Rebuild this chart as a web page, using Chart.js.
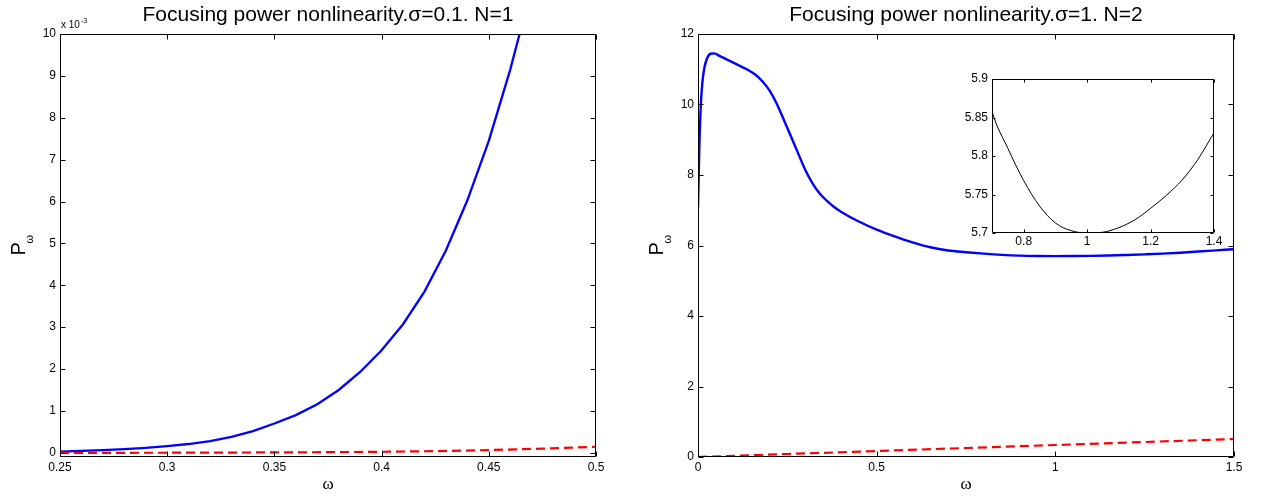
<!DOCTYPE html>
<html>
<head>
<meta charset="utf-8">
<title>Focusing power nonlinearity</title>
<script src="https://cdn.jsdelivr.net/npm/chart.js@4.4.1/dist/chart.umd.min.js"></script>
<style>
    html, body { margin: 0; padding: 0; background: #fff; }
    #wrap { position: relative; width: 1267px; height: 500px; overflow: hidden; }
    canvas { position: absolute; }
    #leftChart { left: 0; top: 0; width: 640px; height: 500px; }
    #rightChart { left: 640px; top: 0; width: 627px; height: 500px; }
    #insetChart { left: 940px; top: 60px; width: 300px; height: 200px; }
</style>
</head>
<body>
<div id="wrap">
    <canvas id="leftChart" width="640" height="500"></canvas>
    <canvas id="rightChart" width="627" height="500"></canvas>
    <canvas id="insetChart" width="300" height="200"></canvas>
</div>
<script>
// ---- data ----
// left panel, sigma = 0.1, N = 1 (P values in units of 1e-3)
const leftOmega = [0.25, 0.26, 0.27, 0.28, 0.29, 0.30, 0.31, 0.32, 0.33, 0.34, 0.35, 0.36,
    0.37, 0.38, 0.39, 0.40, 0.41, 0.42, 0.43, 0.44, 0.45, 0.46, 0.47];
const leftPower = [0.03, 0.045, 0.065, 0.09, 0.12, 0.16, 0.21, 0.28, 0.38, 0.52, 0.70, 0.90,
    1.16, 1.50, 1.93, 2.45, 3.07, 3.85, 4.83, 6.03, 7.45, 9.15, 11.1];
const leftOmegaRed = [0.25, 0.275, 0.3, 0.325, 0.35, 0.375, 0.4, 0.425, 0.45, 0.475, 0.5];
const leftPowerRed = [0.0, 0.0, 0.002, 0.005, 0.01, 0.015, 0.025, 0.04, 0.065, 0.1, 0.145];

// right panel, sigma = 1, N = 2
const rightOmega = [0, 0.004, 0.008, 0.012, 0.018, 0.025, 0.035, 0.045, 0.06, 0.08, 0.10, 0.12,
    0.14, 0.16, 0.18, 0.20, 0.22, 0.24, 0.26, 0.28, 0.30, 0.32, 0.34, 0.36, 0.38, 0.40, 0.45,
    0.50, 0.55, 0.60, 0.65, 0.70, 0.75, 0.80, 0.85, 0.90, 0.95, 1.00, 1.05, 1.10, 1.15, 1.20,
    1.25, 1.30, 1.35, 1.40, 1.45, 1.50];
const rightPower = [7.05, 8.9, 10.0, 10.6, 11.05, 11.3, 11.44, 11.45, 11.38, 11.28, 11.18, 11.08,
    10.98, 10.85, 10.66, 10.4, 10.03, 9.57, 9.1, 8.62, 8.15, 7.77, 7.48, 7.27, 7.1, 6.96, 6.68,
    6.45, 6.26, 6.09, 5.95, 5.858, 5.81, 5.768, 5.735, 5.713, 5.703, 5.700, 5.701, 5.707, 5.717, 5.732,
    5.749, 5.769, 5.796, 5.83, 5.862, 5.895];
const rightOmegaRed = [0, 0.25, 0.5, 0.75, 1.0, 1.25, 1.5];
const rightPowerRed = [0, 0.085, 0.17, 0.255, 0.34, 0.425, 0.51];

// tick labels
const leftXTicks = [0.25, 0.3, 0.35, 0.4, 0.45, 0.5];
const leftYTicks = [0, 1, 2, 3, 4, 5, 6, 7, 8, 9, 10];
const rightXTicks = [0, 0.5, 1, 1.5];
const rightYTicks = [0, 2, 4, 6, 8, 10, 12];
const insetXTicks = [0.8, 1, 1.2, 1.4];
const insetYTicks = [5.7, 5.75, 5.8, 5.85, 5.9];

const SANS = "'Liberation Sans', Arial, sans-serif";
const SERIF = "'Liberation Serif', 'Times New Roman', serif";

function toPoints(xs, ys) {
    return xs.map((x, i) => ({ x: x, y: ys[i] }));
}

function fmt(v) {
    return String(Math.round(v * 10000) / 10000);
}

// matlab-like box: frame, inward ticks on all four sides, title and axis labels
const matlabFrame = {
    id: 'matlabFrame',
    beforeDatasetsDraw(chart, args, opts) {
        if (!opts.fill) return;
        const a = chart.chartArea;
        chart.ctx.save();
        chart.ctx.fillStyle = '#fff';
        chart.ctx.fillRect(a.left, a.top, a.width, a.height);
        chart.ctx.restore();
    },
    afterDraw(chart, args, opts) {
        const ctx = chart.ctx;
        const a = chart.chartArea;
        const xs = chart.scales.x;
        const ys = chart.scales.y;
        const len = opts.tickLen || 5;
        const L = Math.round(a.left) + 0.5, R = Math.round(a.right) - 0.5;
        const T = Math.round(a.top) + 0.5, B = Math.round(a.bottom) - 0.5;

        ctx.save();
        ctx.strokeStyle = '#000';
        ctx.lineWidth = 1;
        ctx.beginPath();
        ctx.rect(L, T, R - L, B - T);
        xs.ticks.forEach(t => {
            const px = Math.round(xs.getPixelForValue(t.value)) + 0.5;
            ctx.moveTo(px, B); ctx.lineTo(px, B - len);
            ctx.moveTo(px, T); ctx.lineTo(px, T + len);
        });
        ys.ticks.forEach(t => {
            const py = Math.round(ys.getPixelForValue(t.value)) + 0.5;
            ctx.moveTo(L, py); ctx.lineTo(L + len, py);
            ctx.moveTo(R, py); ctx.lineTo(R - len, py);
        });
        ctx.stroke();

        ctx.fillStyle = '#000';
        const cx = (a.left + a.right) / 2;
        const cy = (a.top + a.bottom) / 2;

        if (opts.title) {
            ctx.font = '21px ' + SANS;
            ctx.textAlign = 'center';
            ctx.textBaseline = 'alphabetic';
            ctx.fillText(opts.title, cx, a.top - 13);
        }

        if (opts.xLabel) {
            ctx.font = '17px ' + SERIF;
            ctx.textAlign = 'center';
            ctx.fillText(opts.xLabel, cx, a.bottom + 32);
        }

        if (opts.yLabel) {
            // P with a subscript omega, rotated
            ctx.save();
            ctx.translate(a.left, cy);
            ctx.rotate(-Math.PI / 2);
            ctx.textAlign = 'left';
            ctx.font = '20px ' + SANS;
            ctx.fillText(opts.yLabel, -10, -35);
            ctx.font = '11px ' + SANS;
            ctx.fillText(opts.yLabelSub, 2, -27);
            ctx.restore();
        }

        if (opts.exponent) {
            ctx.textAlign = 'left';
            ctx.font = '10px ' + SANS;
            ctx.fillText('x 10', a.left + 1, a.top - 6);
            const w = ctx.measureText('x 10').width;
            ctx.font = '7px ' + SANS;
            ctx.fillText(opts.exponent, a.left + 1 + w + 1, a.top - 11);
        }
        ctx.restore();
    }
};

function makeScale(min, max, tickValues, size, pad, isX) {
    return {
        type: 'linear',
        min: min,
        max: max,
        afterBuildTicks: s => { s.ticks = tickValues.map(v => ({ value: v })); },
        afterFit: s => { if (isX) s.height = size; else s.width = size; },
        grid: { display: false, drawTicks: false },
        border: { display: false },
        ticks: {
            color: '#000',
            font: { family: SANS, size: 12 },
            padding: pad,
            maxRotation: 0,
            autoSkip: false,
            callback: v => fmt(v)
        }
    };
}

function baseOptions(padding, scales, frame) {
    return {
        responsive: false,
        animation: false,
        events: [],
        layout: { padding: padding },
        plugins: {
            legend: { display: false },
            tooltip: { enabled: false },
            title: { display: false },
            matlabFrame: frame
        },
        elements: { point: { radius: 0 } },
        scales: scales
    };
}

document.addEventListener('DOMContentLoaded', function() {
    // Left panel
    new Chart(document.getElementById('leftChart'), {
        type: 'scatter',
        data: {
            datasets: [{
                data: toPoints(leftOmegaRed, leftPowerRed),
                showLine: true,
                borderColor: '#ff0000',
                borderWidth: 2.2,
                borderDash: [9, 5],
                tension: 0
            }, {
                data: toPoints(leftOmega, leftPower),
                showLine: true,
                borderColor: '#0000ff',
                borderWidth: 2.3,
                tension: 0
            }]
        },
        options: baseOptions({ left: 0, top: 34, right: 44, bottom: 0 }, {
            x: makeScale(0.25, 0.5, leftXTicks, 43, 3, true),
            y: makeScale(-0.1, 10, leftYTicks, 60, 4, false)
        }, {
            title: 'Focusing power nonlinearity.\u03c3=0.1. N=1',
            xLabel: '\u03c9',
            yLabel: 'P',
            yLabelSub: '\u03c9',
            exponent: '-3'
        }),
        plugins: [matlabFrame]
    });

    // Right panel
    new Chart(document.getElementById('rightChart'), {
        type: 'scatter',
        data: {
            datasets: [{
                data: toPoints(rightOmegaRed, rightPowerRed),
                showLine: true,
                borderColor: '#ff0000',
                borderWidth: 2.2,
                borderDash: [9, 5],
                tension: 0
            }, {
                data: toPoints(rightOmega, rightPower),
                showLine: true,
                borderColor: '#0000ff',
                borderWidth: 2.4,
                cubicInterpolationMode: 'monotone'
            }]
        },
        options: baseOptions({ left: 0, top: 34, right: 33, bottom: 0 }, {
            x: makeScale(0, 1.5, rightXTicks, 43, 3, true),
            y: makeScale(0, 12, rightYTicks, 58, 4, false)
        }, {
            title: 'Focusing power nonlinearity.\u03c3=1. N=2',
            xLabel: '\u03c9',
            yLabel: 'P',
            yLabelSub: '\u03c9'
        }),
        plugins: [matlabFrame]
    });

    // Inset: zoom on the minimum of the right panel curve
    new Chart(document.getElementById('insetChart'), {
        type: 'scatter',
        data: {
            datasets: [{
                data: toPoints(rightOmega, rightPower),
                showLine: true,
                borderColor: '#000',
                borderWidth: 1,
                cubicInterpolationMode: 'monotone'
            }]
        },
        options: baseOptions({ left: 0, top: 19, right: 26, bottom: 0 }, {
            x: makeScale(0.7, 1.4, insetXTicks, 27, 1, true),
            y: makeScale(5.7, 5.9, insetYTicks, 52, 4, false)
        }, {
            tickLen: 3,
            fill: true
        }),
        plugins: [matlabFrame]
    });
});
</script>
</body>
</html>
